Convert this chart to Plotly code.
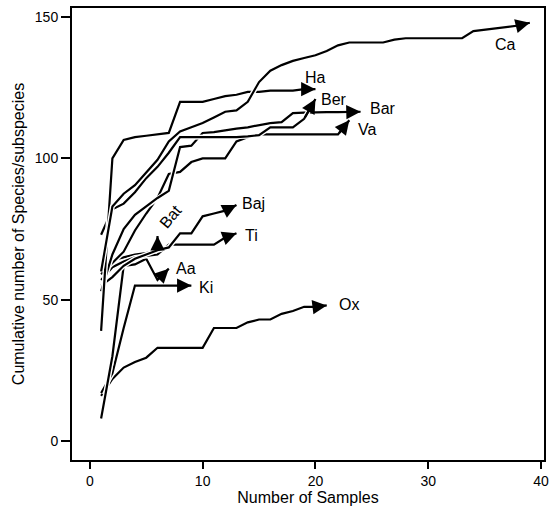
import plotly.graph_objects as go

# ---- data ----
ca_y = [60, 83, 87.5, 90.5, 95, 99.5, 106, 109.5, 111, 112.5, 114.5, 116.5, 117, 120,
        127, 131, 133, 134.5, 135.5, 136.5, 138, 140, 141, 141, 141, 141, 142, 142.5,
        142.5, 142.5, 142.5, 142.5, 142.5, 145, 145.5, 146, 146.5, 147, 148]
ca_x = list(range(1, len(ca_y) + 1))

ha_y = [39, 100, 106.5, 107.5, 108, 108.5, 109, 120, 120, 120, 121, 122, 122.5, 123.5,
        123.5, 124, 124, 124, 124.5, 124.5]
ha_x = list(range(1, len(ha_y) + 1))

ber_y = [73, 82, 84, 88, 93, 97, 102, 107.5, 107.5, 107.5, 107.5, 107.5, 107.5, 107.8,
         108.2, 111, 111, 111, 114, 121]
ber_x = list(range(1, len(ber_y) + 1))

bar_y = [53, 66, 75, 80, 83, 86, 88.5, 104, 104.5, 109, 109.3, 110, 110.5, 111, 111.8,
         112.5, 112.8, 116, 116.2, 116.4, 116.4, 116.4, 116.4, 116.5]
bar_x = list(range(1, len(bar_y) + 1))

va_y = [59, 63, 67, 74.5, 80.5, 86, 94.5, 95.2, 98.7, 100, 100, 100, 106, 107.5, 108.5,
        108.5, 108.5, 108.5, 108.5, 108.5, 108.5, 108.5, 113.5]
va_x = list(range(1, len(va_y) + 1))

baj_y = [55, 58, 62, 64.5, 66, 67.5, 68.5, 73.5, 73.5, 79.5, 80.5, 81.5, 83.5]
baj_x = list(range(1, len(baj_y) + 1))

ti_y = [57, 61.5, 63.5, 65, 65.5, 66, 69.5, 69.5, 69.5, 69.5, 69.5, 72, 73.5]
ti_x = list(range(1, len(ti_y) + 1))

bat_y = [62, 64, 65, 66, 66.5, 67.5, 72.5]
bat_x = [1, 2, 3, 4, 5, 6, 6]

aa_y = [8, 30, 62, 62.5, 64.5, 57, 61]
aa_x = list(range(1, len(aa_y) + 1))

ki_y = [17, 24, 40, 55, 55, 55, 55, 55, 55]
ki_x = list(range(1, len(ki_y) + 1))

ox_y = [16, 22, 26, 28, 29.5, 33, 33, 33, 33, 33, 40, 40, 40, 42, 43, 43, 45, 46, 47.5,
        47.5, 48]
ox_x = list(range(1, len(ox_y) + 1))

names = ["Ox", "Ki", "Aa", "Bat", "Ti", "Baj", "Va", "Bar", "Ber", "Ha", "Ca"]
xs = [ox_x, ki_x, aa_x, bat_x, ti_x, baj_x, va_x, bar_x, ber_x, ha_x, ca_x]
ys = [ox_y, ki_y, aa_y, bat_y, ti_y, baj_y, va_y, bar_y, ber_y, ha_y, ca_y]

x_ticks = [0, 10, 20, 30, 40]
y_ticks = [0, 50, 100, 150]

# ---- style: label offsets (px) from the arrow tip ----
label_style = {
    "Ca": dict(xshift=-24, yshift=-22, textangle=0),
    "Ha": dict(xshift=0, yshift=12, textangle=0),
    "Ber": dict(xshift=19, yshift=0, textangle=0),
    "Bar": dict(xshift=22, yshift=3, textangle=0),
    "Va": dict(xshift=18, yshift=-9, textangle=0),
    "Baj": dict(xshift=17, yshift=2, textangle=0),
    "Ti": dict(xshift=15, yshift=-2, textangle=0),
    "Bat": dict(xshift=13, yshift=20, textangle=-50),
    "Aa": dict(xshift=17, yshift=0, textangle=0),
    "Ki": dict(xshift=15, yshift=-2, textangle=0),
    "Ox": dict(xshift=22, yshift=1, textangle=0),
}

FONT = "Liberation Sans, Arial, sans-serif"
fig = go.Figure()
annotations = []
for name, x, y in zip(names, xs, ys):
    # white halo so later curves cut small gaps through earlier ones
    fig.add_trace(go.Scatter(x=x, y=y, mode="lines",
                             line=dict(color="white", width=5),
                             hoverinfo="skip", showlegend=False))
    fig.add_trace(go.Scatter(x=x, y=y, mode="lines", name=name,
                             line=dict(color="black", width=2.2),
                             showlegend=False))
    annotations.append(dict(x=x[-1], y=y[-1], ax=x[-2], ay=y[-2],
                            xref="x", yref="y", axref="x", ayref="y",
                            showarrow=True, arrowhead=2, arrowsize=1.3,
                            arrowwidth=2.2, arrowcolor="black", standoff=0,
                            text=""))
    st = label_style[name]
    annotations.append(dict(x=x[-1], y=y[-1], xref="x", yref="y",
                            text=name, showarrow=False,
                            xshift=st["xshift"], yshift=st["yshift"],
                            textangle=st["textangle"],
                            font=dict(family=FONT, size=16, color="black")))

fig.update_layout(
    width=553, height=510,
    margin=dict(l=72, r=4, t=8, b=50),
    paper_bgcolor="white", plot_bgcolor="white",
    font=dict(family=FONT, size=14, color="black"),
    annotations=annotations,
    xaxis=dict(range=[-1.58, 40.26], tickvals=x_ticks, ticks="outside",
               ticklen=7, tickwidth=2, tickcolor="black",
               showline=True, linewidth=2, linecolor="black", mirror=True,
               showgrid=False, zeroline=False,
               title=dict(text="Number of Samples", font=dict(size=16), standoff=4),
               tickfont=dict(size=14)),
    yaxis=dict(range=[-6.7, 153.2], tickvals=y_ticks, ticks="outside",
               ticklen=9, tickwidth=2, tickcolor="black",
               showline=True, linewidth=2, linecolor="black", mirror=True,
               showgrid=False, zeroline=False,
               title=dict(text="Cumulative number of Species/subspecies",
                          font=dict(size=16), standoff=6),
               tickfont=dict(size=14)),
)

fig.write_html("out.html")
